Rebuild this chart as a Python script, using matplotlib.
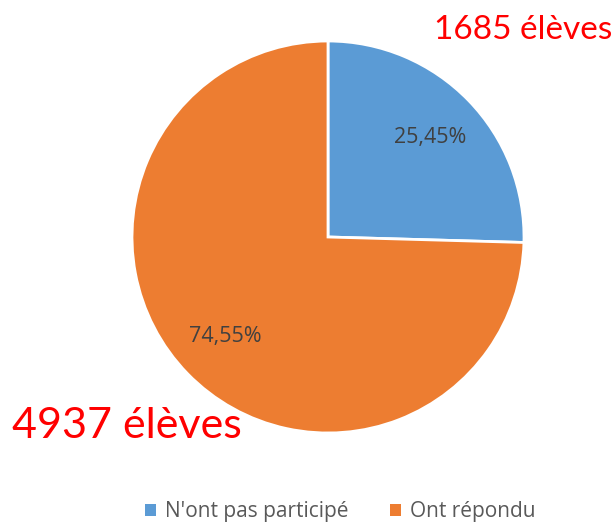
import matplotlib.pyplot as plt
from matplotlib.patches import Patch

# Data
labels = ["N'ont pas participé", "Ont répondu"]
counts = [1685, 4937]
colors = ["#5B9BD5", "#ED7D31"]
count_texts = ["1685 élèves", "4937 élèves"]

W, H = 615, 526
fig = plt.figure(figsize=(W / 100, H / 100), dpi=100)

# pie centred at (328, 237) px, radius ~196 px
cx, cy, r = 328, 237, 196
ax = fig.add_axes([(cx - r) / W, (H - cy - r) / H, 2 * r / W, 2 * r / H])
wedges, texts, autotexts = ax.pie(
    counts, colors=colors, startangle=90, counterclock=False,
    autopct=lambda p: f"{p:.2f}%".replace(".", ","), pctdistance=0.73,
    wedgeprops=dict(edgecolor="white", linewidth=2),
    textprops=dict(color="#404040", fontsize=15.5, family="Open Sans"),
    radius=1.0,
)
ax.set_xlim(-1.0, 1.0)
ax.set_ylim(-1.0, 1.0)
ax.set_aspect("equal")
ax.axis("off")

# big red counts
fig.text(0.995, 1 - 30 / H, count_texts[0], color="red", fontsize=24,
         family="Lato", ha="right", va="center")
fig.text(0.02, 1 - 426 / H, count_texts[1], color="red", fontsize=31,
         family="Lato", ha="left", va="center")

# legend
handles = [Patch(facecolor=c, edgecolor="none") for c in colors]
fig.legend(handles, labels, loc="center", bbox_to_anchor=(0.553, 1 - 512 / H),
           ncol=2, frameon=False, handlelength=0.55, handleheight=0.55,
           handletextpad=0.4, columnspacing=2.0, borderpad=0.2,
           prop=dict(family="Open Sans", size=15), labelcolor="#595959")

fig.savefig("out.png", dpi=100)
